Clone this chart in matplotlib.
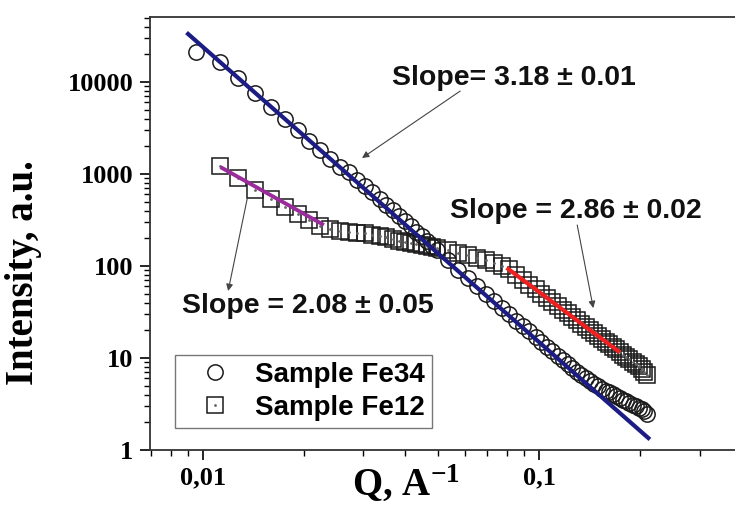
import matplotlib
matplotlib.use('Agg')
import matplotlib.pyplot as plt
from matplotlib.ticker import FixedLocator, NullFormatter, LogLocator
from matplotlib.legend_handler import HandlerTuple

# Sample Fe34 (circles)
q_fe34 = [0.0095, 0.0112, 0.0127, 0.0143, 0.0159, 0.0175, 0.0191, 0.0207, 0.0223, 0.0239,
          0.0255, 0.0271, 0.0287, 0.0303, 0.0319, 0.0335, 0.0351, 0.0367, 0.0383, 0.0399,
          0.0415, 0.0431, 0.0447, 0.0463, 0.0479, 0.0495,
          0.0535, 0.0575, 0.0615, 0.0655, 0.0695, 0.0735, 0.0775, 0.0815, 0.0855, 0.0895,
          0.0935, 0.0975, 0.1015, 0.1055, 0.1095, 0.1135, 0.1175, 0.1215, 0.1255, 0.1295,
          0.1335, 0.1375, 0.1415, 0.1455, 0.1495, 0.1535, 0.1575, 0.1615, 0.1655, 0.1695,
          0.1735, 0.1775, 0.1815, 0.1855, 0.1895, 0.1935, 0.1975, 0.2015, 0.2055, 0.2090]
i_fe34 = [21000, 16600, 11100, 7590, 5400, 3970, 3000, 2310, 1820, 1460,
          1190, 1044, 869, 739, 633, 541, 466, 404, 352, 309,
          269, 236, 210, 187, 164, 148,
          115, 91.2, 73.5, 60.1, 49.7, 41.5, 35.0, 29.8, 25.5, 22.3,
          19.6, 17.1, 15.1, 13.3, 11.8, 10.5, 9.42, 8.55, 7.80, 7.05,
          6.47, 6.02, 5.62, 5.26, 4.93, 4.64, 4.42, 4.22, 4.04, 3.83,
          3.64, 3.50, 3.37, 3.22, 3.07, 2.98, 2.88, 2.77, 2.63, 2.49]

# Sample Fe12 (squares)
q_fe12 = [0.0112, 0.0127, 0.0143, 0.0159, 0.0175, 0.0191, 0.0207, 0.0223, 0.0239,
          0.0255, 0.0271, 0.0287, 0.0303, 0.0319, 0.0335, 0.0351, 0.0367, 0.0383, 0.0399,
          0.0415, 0.0431, 0.0447, 0.0463, 0.0479, 0.0495,
          0.0535, 0.0575, 0.0615, 0.0655, 0.0695, 0.0735, 0.0775, 0.0815, 0.0855, 0.0895,
          0.0935, 0.0975, 0.1015, 0.1055, 0.1095, 0.1135, 0.1175, 0.1215, 0.1255, 0.1295,
          0.1335, 0.1375, 0.1415, 0.1455, 0.1495, 0.1535, 0.1575, 0.1615, 0.1655, 0.1695,
          0.1735, 0.1775, 0.1815, 0.1855, 0.1895, 0.1935, 0.1975, 0.2015, 0.2055, 0.2090]
i_fe12 = [1220, 905, 670, 530, 435, 365, 315, 275, 255,
          243, 236, 231, 227, 220, 212, 205, 196, 189, 182,
          177, 172, 168, 164, 160, 156,
          148, 140, 132, 123, 115, 108, 100, 92, 79.8, 70.5,
          62.6, 55.8, 50.0, 45.0, 40.7, 36.9, 33.6, 30.7, 28.1, 25.8,
          23.7, 21.9, 20.3, 18.8, 17.4, 16.2, 15.1, 14.1, 13.2, 12.4,
          11.6, 10.9, 10.3, 9.71, 9.16, 8.65, 8.18, 7.6, 7.1, 6.5]

# power-law fits (end points)
fit34_q = [0.00902, 0.2111]
fit34_i = [33300, 1.35]
fit12a_q = [0.0114, 0.0226]
fit12a_i = [1160, 286]
fit12b_q = [0.0809, 0.1718]
fit12b_i = [92.7, 11.9]

# annotations: text, text position, arrow tail, arrow tip
notes = [
    ('Slope= 3.18 \u00b1 0.01', (0.0365, 11050), (0.0582, 7980), (0.0297, 1493)),
    ('Slope = 2.86 \u00b1 0.02', (0.0543, 396), (0.1297, 279), (0.1448, 34.9)),
    ('Slope = 2.08 \u00b1 0.05', (0.00866, 36.7), (0.01352, 535), (0.01187, 53.5)),
]

plt.rcParams['mathtext.fontset'] = 'custom'
plt.rcParams['mathtext.rm'] = 'Liberation Serif:bold'
plt.rcParams['mathtext.default'] = 'rm'

serif = {'family': 'Liberation Serif', 'weight': 'bold'}
sans = {'family': 'Liberation Sans', 'weight': 'bold'}

fig = plt.figure(figsize=(7.35, 5.15), dpi=100)
ax = fig.add_axes([0.2041, 0.1262, 0.85, 0.8408])
ax.set_xscale('log')
ax.set_yscale('log')

sq, = ax.plot(q_fe12, i_fe12, 's', ms=11, mfc='none', mec='#1a1a1a', mew=1.1, zorder=2)
dot, = ax.plot(q_fe12, i_fe12, '.', ms=2, color='#666666', zorder=2)
ci, = ax.plot(q_fe34, i_fe34, 'o', ms=11, mfc='none', mec='#1a1a1a', mew=1.1, zorder=3)

ax.plot(fit34_q, fit34_i, color='#1c1c85', lw=3, zorder=4)
ax.plot(fit12a_q, fit12a_i, color='#9a2b9a', lw=2.8, zorder=4)
ax.plot(fit12b_q, fit12b_i, color='#f02020', lw=3, zorder=4)

for txt, tpos, tail, tip in notes:
    ax.annotate('', xy=tip, xytext=tail,
                arrowprops=dict(arrowstyle='-|>', color='#444444', lw=0.8,
                                mutation_scale=10, shrinkA=0, shrinkB=0), zorder=5)
    ax.text(tpos[0], tpos[1], txt, ha='left', va='center', fontsize=20.5, color='#111111', **sans)

ax.set_xlim(0.00695, 0.502)
ax.set_ylim(1, 50900)

ax.xaxis.set_major_locator(FixedLocator([0.01, 0.1]))
ax.set_xticklabels(['0,01', '0,1'])
ax.xaxis.set_minor_locator(LogLocator(base=10, subs=[2, 3, 4, 5, 6, 7, 8, 9]))
ax.xaxis.set_minor_formatter(NullFormatter())
ax.yaxis.set_major_locator(FixedLocator([1, 10, 100, 1000, 10000]))
ax.set_yticklabels(['1', '10', '100', '1000', '10000'])
ax.yaxis.set_minor_locator(LogLocator(base=10, subs=[2, 3, 4, 5, 6, 7, 8, 9]))
ax.yaxis.set_minor_formatter(NullFormatter())

ax.tick_params(which='major', direction='out', length=7, width=1.2, pad=5, labelsize=19)
ax.tick_params(which='minor', direction='out', length=4, width=1)
for lab in ax.get_xticklabels() + ax.get_yticklabels():
    lab.set_fontfamily('Liberation Serif')
    lab.set_fontweight('bold')

ax.spines['right'].set_visible(False)
for s in ['left', 'bottom', 'top']:
    ax.spines[s].set_linewidth(1.3)
    ax.spines[s].set_color('#333333')

ax.set_xlabel('Q, A$^{-1}$', fontsize=28, **serif)
ax.set_ylabel('Intensity, a.u.', fontsize=28, **serif)
ax.xaxis.set_label_coords(0.41, -0.03)
ax.yaxis.set_label_coords(-0.173, 0.41)

leg = ax.legend([ci, (sq, dot)], ['Sample Fe34', 'Sample Fe12'],
                handler_map={tuple: HandlerTuple(ndivide=1, pad=0)},
                loc='lower left', bbox_to_anchor=(0.238, 0.169), bbox_transform=fig.transFigure,
                borderaxespad=0, fancybox=False, framealpha=1, edgecolor='#777777',
                prop={'family': 'Liberation Sans', 'weight': 'bold', 'size': 20},
                borderpad=0.25, handlelength=2.4, handletextpad=0.25, labelspacing=0.25)
leg.get_frame().set_linewidth(1.0)

fig.savefig('out.png', dpi=100)
